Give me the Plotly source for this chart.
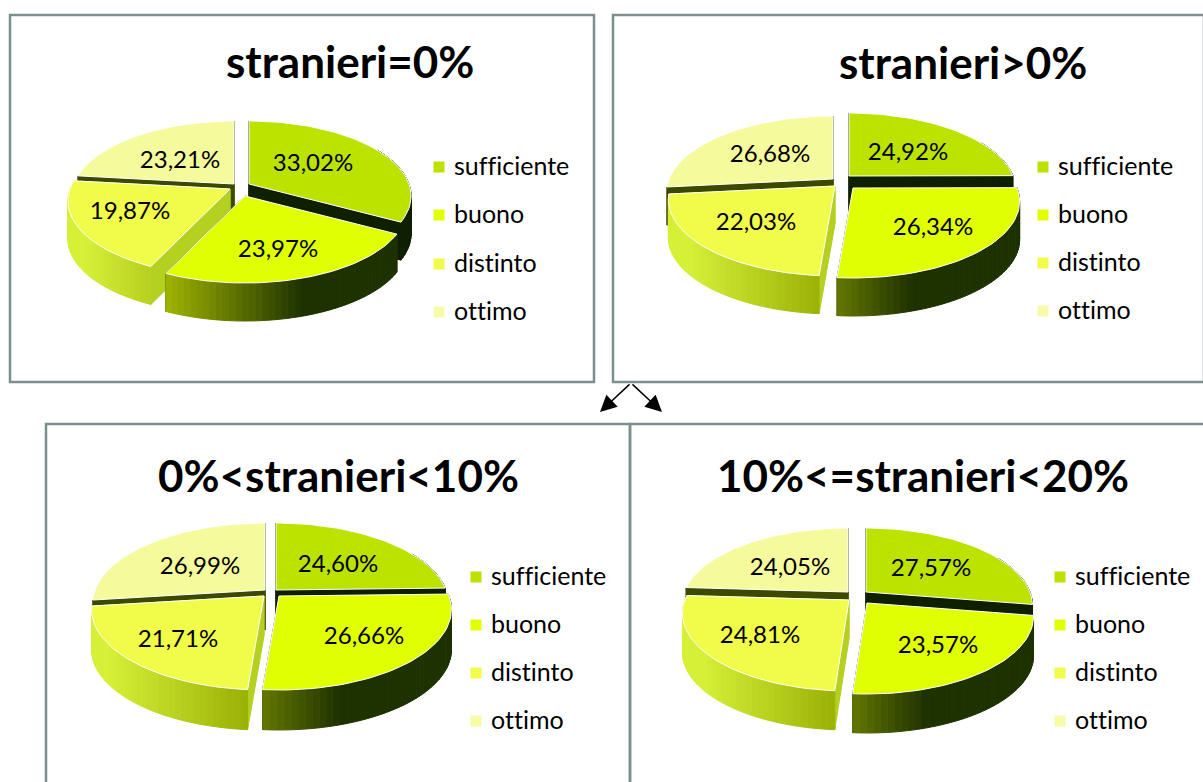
import math
import plotly.graph_objects as go

# ---- data ----
categories = ["sufficiente", "buono", "distinto", "ottimo"]
titles = ["stranieri=0%", "stranieri>0%", "0%<stranieri<10%", "10%<=stranieri<20%"]
values_zero = [33.02, 23.97, 19.87, 23.21]
values_above = [24.92, 26.34, 22.03, 26.68]
values_under10 = [24.60, 26.66, 21.71, 26.99]
values_10to20 = [27.57, 23.57, 24.81, 24.05]
all_values = [values_zero, values_above, values_under10, values_10to20]

# ---- styles ----
top_colors = ["#bce300", "#e0ff00", "#f0fb4a", "#f5fb9c"]
legend_colors = ["#bce300", "#e0ff00", "#f0fb4a", "#f7fba8"]
wall_stops = [
    [(0, "#0f2000"), (1, "#0f2000")],
    [(0.24, "#a4b800"), (0.68, "#1e3200"), (1, "#1e3200")],
    [(0, "#d6f038"), (0.45, "#94aa00"), (1, "#94aa00")],
    None,
]
radial_colors = ["#0f2000", "#1e3200", "#b4d020", "#3c4a00"]
FONT = "Lato, Carlito, sans-serif"
FRAME = "#7c8e8e"

# ---- layout of the four pies (pixels of the axes) ----
pies = [
    dict(R=160, up=63, down=87, depth=38, title=(350, 61), lx=439,
         ly=[167, 215, 264, 312],
         apex=[(249, 184), (245, 196), (230, 189), (234, 184)],
         lab=[(313, 165), (278, 251), (130, 213), (180, 162)]),
    dict(R=164, up=63, down=90, depth=38, title=(963, 62), lx=1043,
         ly=[167, 215, 263, 311],
         apex=[(849, 176), (853, 188), (835, 186), (833, 179)],
         lab=[(908, 154), (933, 229), (756, 224), (770, 156)]),
    dict(R=170, up=67, down=94, depth=40, title=(338, 475), lx=476,
         ly=[577, 625, 673, 721],
         apex=[(276, 590), (279, 596), (264, 596), (265, 590)],
         lab=[(338, 566), (364, 638), (178, 641), (200, 568)]),
    dict(R=164, up=64, down=91, depth=39, title=(923, 475), lx=1060,
         ly=[577, 625, 673, 721],
         apex=[(866, 592), (867, 603), (849, 600), (848, 592)],
         lab=[(931, 570), (938, 647), (760, 637), (790, 569)]),
]
DRAW_ORDER = [3, 0, 2, 1]


def hex2rgb(c):
    return tuple(int(c[i:i + 2], 16) for i in (1, 3, 5))


def ramp(stops, t):
    t = max(stops[0][0], min(stops[-1][0], t))
    for (a, ca), (b, cb) in zip(stops, stops[1:]):
        if t <= b:
            f = (t - a) / (b - a) if b > a else 0
            ra, rb = hex2rgb(ca), hex2rgb(cb)
            return "rgb(%d,%d,%d)" % tuple(ra[i] + (rb[i] - ra[i]) * f for i in range(3))
    return stops[-1][1]


def project(p, apex, deg):
    """Point of the pie rim at a clockwise angle from 12 o'clock, with perspective."""
    h = 2 * p["up"] * p["down"] / (p["up"] + p["down"])
    k = h / p["up"] - 1
    u, v = math.sin(math.radians(deg)), math.cos(math.radians(deg))
    d = 1 + k * v
    return apex[0] + p["R"] * u / d, apex[1] - h * v / d


def poly(fig, xs, ys, fill, line=None, width=1, name=""):
    fig.add_trace(go.Scatter(
        x=xs, y=ys, mode="lines", fill="toself", fillcolor=fill,
        line=dict(color=line or fill, width=width), showlegend=False,
        hoverinfo="skip" if not name else "text", text=name,
    ))


fig = go.Figure()

for p, values, title in zip(pies, all_values, titles):
    total = sum(values)
    edges = [0.0]
    for val in values:
        edges.append(edges[-1] + val / total * 360)
    x_left = p["apex"][1][0] - p["R"]

    for i in DRAW_ORDER:
        a0, a1 = edges[i], edges[i + 1]
        apex = p["apex"][i]
        depth = p["depth"]
        n = max(2, int((a1 - a0) / 2))
        angles = [a0 + (a1 - a0) * j / n for j in range(n + 1)]
        rim = [project(p, apex, a) for a in angles]

        # radial cut faces
        for a in (a0, a1):
            ex, ey = project(p, apex, a)
            poly(fig, [apex[0], ex, ex, apex[0], apex[0]],
                 [apex[1], ey, ey + depth, apex[1] + depth, apex[1]], radial_colors[i])

        # outer wall, shaded from left to right
        if wall_stops[i]:
            for j in range(n):
                if not 60 <= angles[j] <= 300:
                    continue
                (x0, y0), (x1, y1) = rim[j], rim[j + 1]
                t = ((x0 + x1) / 2 - x_left) / (2 * p["R"])
                poly(fig, [x0, x1, x1, x0, x0],
                     [y0, y1, y1 + depth, y0 + depth, y0], ramp(wall_stops[i], t))

        # top face
        poly(fig, [apex[0]] + [q[0] for q in rim] + [apex[0]],
             [apex[1]] + [q[1] for q in rim] + [apex[1]],
             top_colors[i], line="#ffffff", width=1,
             name="%s: %s" % (categories[i], f"{values[i]:.2f}%".replace(".", ",")))

    # percent labels
    fig.add_trace(go.Scatter(
        x=[q[0] for q in p["lab"]], y=[q[1] for q in p["lab"]], mode="text",
        text=[f"{val:.2f}%".replace(".", ",") for val in values],
        textposition="middle center", showlegend=False, hoverinfo="skip",
        textfont=dict(family=FONT, size=24, color="#000000"),
    ))
    # legend
    fig.add_trace(go.Scatter(
        x=[p["lx"]] * 4, y=p["ly"], mode="markers", showlegend=False, hoverinfo="skip",
        marker=dict(symbol="square", size=11, color=legend_colors),
    ))
    fig.add_trace(go.Scatter(
        x=[p["lx"] + 15] * 4, y=[v + 2 for v in p["ly"]], mode="text", text=categories,
        textposition="middle right", showlegend=False, hoverinfo="skip",
        textfont=dict(family=FONT, size=25, color="#000000"),
    ))
    fig.add_annotation(x=p["title"][0], y=p["title"][1], text="<b>%s</b>" % title.replace("<", "&lt;"),
                       showarrow=False, font=dict(family=FONT, size=44, color="#000000"))

# frames
frames = [(10, 15, 594, 382), (613, 15, 1204, 382), (46, 424, 630, 790), (630, 424, 1210, 790)]
shapes = [dict(type="rect", xref="x", yref="y", x0=a, y0=b, x1=c, y1=d,
               line=dict(color=FRAME, width=2.5), layer="below") for a, b, c, d in frames]

# arrows
for tip in (600, 662):
    fig.add_annotation(x=tip, y=412, ax=631, ay=383, xref="x", yref="y", axref="x", ayref="y",
                       text="", showarrow=True, arrowhead=2, arrowsize=2.2, arrowwidth=1.5,
                       arrowcolor="#000000")

fig.update_layout(
    width=1203, height=782, margin=dict(l=0, r=0, t=0, b=0), autosize=False,
    paper_bgcolor="#ffffff", plot_bgcolor="#ffffff", shapes=shapes, showlegend=False,
    xaxis=dict(range=[0, 1203], visible=False, fixedrange=True),
    yaxis=dict(range=[782, 0], visible=False, fixedrange=True),
)
fig.write_html("out.html", config=dict(displayModeBar=False),
               post_script="document.body.style.margin='0';document.body.style.overflow='hidden';"
                           "var s=document.createElement('style');"
                           "s.textContent='text{font-variant-ligatures:none !important}';"
                           "document.head.appendChild(s);")
